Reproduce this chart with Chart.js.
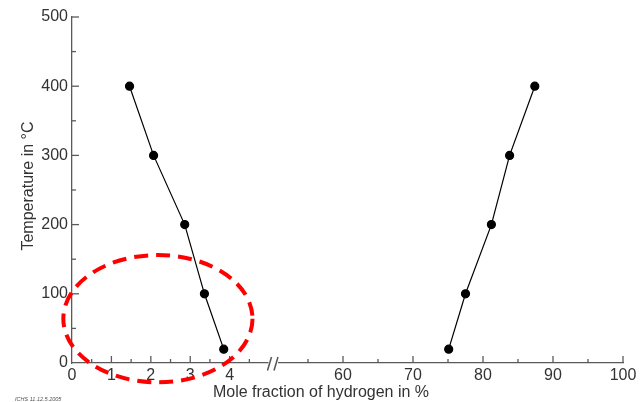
<!DOCTYPE html>
<html>
<head>
<meta charset="utf-8">
<script src="https://cdn.jsdelivr.net/npm/chart.js@4.4.0/dist/chart.umd.min.js"></script>
<style>
  html, body { margin: 0; padding: 0; background: #fff; }
  #wrap { width: 644px; height: 402px; position: relative; }
</style>
</head>
<body>
<div id="wrap"><canvas id="chart"></canvas></div>
<script>
// ── Hydrogen mole fraction vs temperature (broken x axis) ──

// left branch (lean side), x in % H2
const leanX = [1.46, 2.07, 2.86, 3.36, 3.85];
const leanT = [400, 300, 200, 100, 20];
// right branch (rich side)
const richX = [75.1, 77.5, 81.2, 83.8, 87.4];
const richT = [20, 100, 200, 300, 400];

// axis ranges on both sides of the break
const leftRange  = [0, 5.1];
const rightRange = [50, 100];
const tempRange  = [0, 500];

const xTitle = 'Mole fraction of hydrogen in %';
const yTitle = 'Temperature in °C';
const stamp  = 'ICHS 11.12.5.2005';

// red dashed ellipse marking the low-temperature region (data units)
const markCenter = { x: 2.18, y: 64 };
const markRadius = { x: 2.4, y: 92 };

const TXT = '#333333';
const AXIS = '#5a5a5a';
const FONT = 'Liberation Sans, Arial, sans-serif';

const toPts = (xs, ys) => xs.map((x, i) => ({ x, y: ys[i] }));

// tick marks pointing into the plot, plus the axis break, titles and ellipse
const decorPlugin = {
  id: 'decor',
  afterDraw(chart) {
    const ctx = chart.ctx;
    const area = chart.chartArea;
    const xL = chart.scales.xL, xR = chart.scales.xR, y = chart.scales.y;
    ctx.save();
    ctx.strokeStyle = AXIS;
    ctx.lineWidth = 1.3;

    // x ticks (inward)
    const xTick = (scale, v, major) => {
      const px = scale.getPixelForValue(v);
      ctx.beginPath();
      ctx.moveTo(px, area.bottom);
      ctx.lineTo(px, area.bottom - (major ? 7 : 4));
      ctx.stroke();
    };
    for (let v = 0.5; v < 5; v += 0.5) xTick(xL, v, Number.isInteger(v));
    for (let v = 55; v <= rightRange[1]; v += 5) xTick(xR, v, v % 10 === 0);

    // y ticks (inward)
    for (let v = 50; v <= tempRange[1]; v += 50) {
      const py = y.getPixelForValue(v);
      ctx.beginPath();
      ctx.moveTo(area.left, py);
      ctx.lineTo(area.left + (v % 100 === 0 ? 7 : 4), py);
      ctx.stroke();
    }

    // axis break "//"
    const bx = xL.right;
    const by = area.bottom;
    ctx.fillStyle = '#fff';
    ctx.fillRect(bx - 4.5, by - 3, 9.5, 6);
    ctx.strokeStyle = '#555';
    ctx.lineWidth = 1.5;
    [-3.5, 3].forEach(dx => {
      ctx.beginPath();
      ctx.moveTo(bx + dx - 2, by + 7.5);
      ctx.lineTo(bx + dx + 2, by - 6);
      ctx.stroke();
    });

    // red dashed ellipse
    const cx = xL.getPixelForValue(markCenter.x);
    const cy = y.getPixelForValue(markCenter.y);
    const rx = xL.getPixelForValue(markCenter.x + markRadius.x) - cx;
    const ry = cy - y.getPixelForValue(markCenter.y + markRadius.y);
    ctx.strokeStyle = '#ff0000';
    ctx.lineWidth = 4;
    ctx.setLineDash([14, 8]);
    ctx.beginPath();
    ctx.ellipse(cx, cy, rx, ry, 0, 0, Math.PI * 2);
    ctx.stroke();
    ctx.setLineDash([]);

    // titles
    ctx.fillStyle = TXT;
    ctx.font = '16px ' + FONT;
    ctx.textAlign = 'center';
    ctx.textBaseline = 'middle';
    ctx.fillText(xTitle, 321, 393);
    ctx.save();
    ctx.translate(29, 186);
    ctx.rotate(-Math.PI / 2);
    ctx.fillText(yTitle, 0, 0);
    ctx.restore();

    ctx.font = 'italic 5.5px ' + FONT;
    ctx.fillStyle = '#555';
    ctx.textAlign = 'left';
    ctx.fillText(stamp, 15, 399);
    ctx.restore();
  }
};

const tickFont = { size: 16, family: FONT };

const xAxis = (range, weight, step, isLabel) => ({
  type: 'linear',
  position: 'bottom',
  stack: 'x',
  stackWeight: weight,
  min: range[0],
  max: range[1],
  grid: { display: false, drawTicks: false },
  border: { display: true, color: AXIS, width: 1.3 },
  ticks: {
    stepSize: step,
    autoSkip: false,
    maxRotation: 0,
    padding: 3,
    color: TXT,
    font: tickFont,
    callback: v => isLabel(v) ? String(v) : ''
  },
  afterFit: s => { s.height = 39; }
});

new Chart(document.getElementById('chart'), {
  type: 'scatter',
  data: {
    datasets: [
      { data: toPts(leanX, leanT), xAxisID: 'xL', yAxisID: 'y' },
      { data: toPts(richX, richT), xAxisID: 'xR', yAxisID: 'y' }
    ].map(d => Object.assign(d, {
      showLine: true,
      borderColor: '#000',
      backgroundColor: '#000',
      borderWidth: 1.2,
      pointRadius: 4,
      pointHoverRadius: 4,
      tension: 0
    }))
  },
  options: {
    responsive: true,
    maintainAspectRatio: false,
    animation: false,
    layout: { padding: { left: 0, right: 21, top: 17, bottom: 0 } },
    plugins: { legend: { display: false }, tooltip: { enabled: false }, title: { display: false } },
    scales: {
      xL: xAxis(leftRange, 201, 1, v => Number.isInteger(v) && v < 5),
      xR: xAxis(rightRange, 350, 10, v => v % 10 === 0 && v > rightRange[0]),
      y: {
        type: 'linear',
        position: 'left',
        min: tempRange[0],
        max: tempRange[1],
        grid: { display: false, drawTicks: false },
        border: { display: true, color: AXIS, width: 1.3 },
        ticks: { stepSize: 100, padding: 4, color: TXT, font: tickFont },
        afterFit: s => { s.width = 72; }
      }
    }
  },
  plugins: [decorPlugin]
});
</script>
</body>
</html>
